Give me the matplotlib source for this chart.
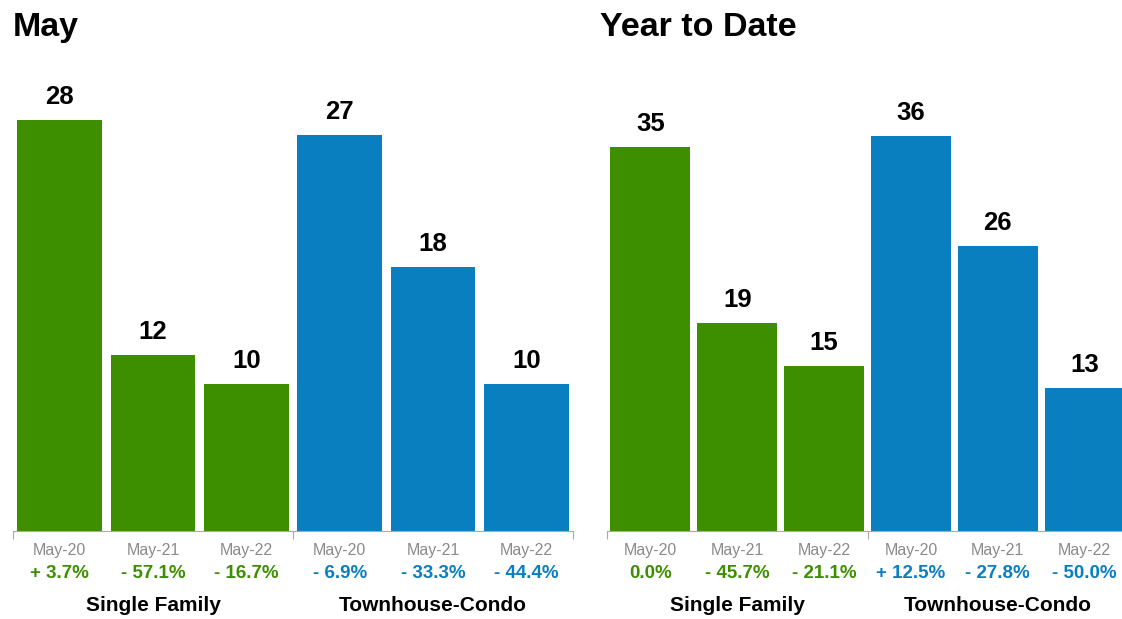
import matplotlib.pyplot as plt

plt.rcParams['font.family'] = ['Liberation Sans', 'DejaVu Sans']

# data
periods = ['May-20', 'May-21', 'May-22']
groups = ['Single Family', 'Townhouse-Condo']

may_single = [28, 12, 10]
may_condo = [27, 18, 10]
may_single_chg = ['+ 3.7%', '- 57.1%', '- 16.7%']
may_condo_chg = ['- 6.9%', '- 33.3%', '- 44.4%']

ytd_single = [35, 19, 15]
ytd_condo = [36, 26, 13]
ytd_single_chg = ['0.0%', '- 45.7%', '- 21.1%']
ytd_condo_chg = ['+ 12.5%', '- 27.8%', '- 50.0%']

GREEN = '#3d8f00'
BLUE = '#0a7fc0'

W, H = 1122, 619
fig = plt.figure(figsize=(W / 100, H / 100), dpi=100)


def px_axes(x0, x1, y_top, y_bot):
    return fig.add_axes([x0 / W, 1 - y_bot / H, (x1 - x0) / W, (y_bot - y_top) / H])


def panel(ax, single, condo, single_chg, condo_chg, ytop, barw):
    vals = single + condo
    xs = list(range(len(vals)))
    colors = [GREEN] * len(single) + [BLUE] * len(condo)
    ax.bar(xs, vals, width=barw, color=colors)
    ax.set_xlim(-0.5, 5.5)
    ax.set_ylim(0, ytop)
    for s in ['top', 'left', 'right']:
        ax.spines[s].set_visible(False)
    ax.spines['bottom'].set_color('#aaaaaa')
    ax.set_yticks([])
    ax.set_xticks([-0.5, 2.5, 5.5])
    ax.set_xticklabels([])
    ax.tick_params(axis='x', which='major', length=6, color='#aaaaaa', direction='out')
    ax.set_xticks(xs, minor=True)
    ax.set_xticklabels(periods * 2, minor=True)
    ax.tick_params(axis='x', which='minor', length=0, pad=9, labelsize=11.5,
                   labelcolor='#8a8a8a')
    for x, v in zip(xs, vals):
        ax.annotate(str(v), (x, v), xytext=(0, 11.5), textcoords='offset points',
                    ha='center', va='baseline', fontsize=18.5, fontweight='bold')
    trans = ax.get_xaxis_transform()
    for x, t, c in zip(xs, single_chg + condo_chg, colors):
        ax.text(x, -0.093, t, transform=trans, ha='center', va='center',
                fontsize=13.5, fontweight='bold', color=c)
    for gx, g in zip([1, 4], groups):
        ax.text(gx, -0.162, g, transform=trans, ha='center', va='center',
                fontsize=15, fontweight='bold', color='black')


ax1 = px_axes(13, 573, 71, 531)
panel(ax1, may_single, may_condo, may_single_chg, may_condo_chg, 460 / 14.68, 0.91)

ax2 = px_axes(607, 1128, 71, 531)
panel(ax2, ytd_single, ytd_condo, ytd_single_chg, ytd_condo_chg, 460 / 10.97, 0.92)

fig.text(13 / W, 1 - 36 / H, 'May', fontsize=24.5, fontweight='bold', va='baseline')
fig.text(600 / W, 1 - 36 / H, 'Year to Date', fontsize=24.5, fontweight='bold',
         va='baseline')

fig.savefig('out.png', dpi=100)
